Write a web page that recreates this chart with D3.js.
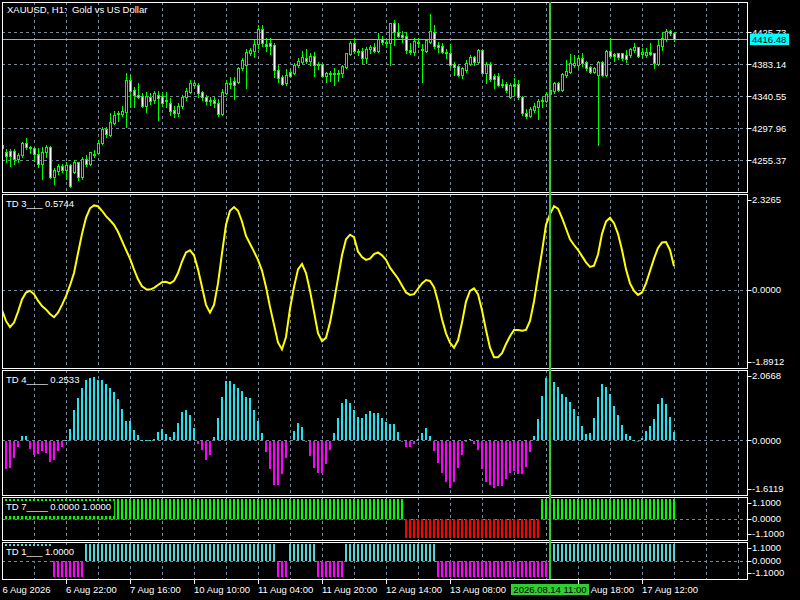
<!DOCTYPE html>
<html>
<head>
<meta charset="utf-8">
<style>
  body { margin: 0; background: #000; }
  svg { display: block; }
  svg text { font: 9.5px "Liberation Sans", Arial, sans-serif; fill: #fff; white-space: pre; }
  .grid { stroke: #778899; stroke-width: 1px; stroke-dasharray: 3,3; fill: none; }
  .frame { stroke: #fff; stroke-width: 1px; fill: none; }
</style>
</head>
<body>
<script src="https://d3js.org/d3.v7.min.js"></script>
<script>
// ---- data (H1 bars, index 0 .. 168) ----
// candles: [open, high, low, close]
var candles = [
  [4271.3,4278.9,4265.6,4275.8],[4266.9,4270.0,4253.6,4261.6],[4268.2,4270.0,4247.8,4261.1],[4268.2,4270.0,4250.5,4256.7],
  [4256.7,4264.7,4253.6,4262.5],[4262.5,4280.2,4260.2,4278.0],[4278.0,4284.6,4270.0,4272.7],[4272.7,4274.4,4265.6,4271.3],
  [4271.3,4272.7,4254.9,4263.3],[4263.3,4271.3,4246.0,4250.0],[4250.0,4272.7,4230.1,4266.9],[4266.9,4275.8,4260.2,4272.7],
  [4272.7,4274.4,4231.4,4233.6],[4233.6,4244.7,4223.9,4242.5],[4241.6,4250.5,4237.2,4247.8],[4247.8,4250.5,4239.8,4242.5],
  [4242.5,4253.6,4230.1,4249.1],[4249.1,4250.5,4220.3,4221.2],[4240.3,4255.8,4238.1,4253.6],[4252.7,4253.6,4229.2,4232.7],
  [4232.7,4260.2,4230.5,4256.7],[4256.7,4262.5,4247.8,4250.0],[4250.0,4266.9,4249.1,4266.0],[4262.5,4269.1,4260.2,4263.8],
  [4264.7,4282.4,4263.8,4278.0],[4278.0,4300.2,4277.1,4297.1],[4297.1,4300.2,4286.9,4290.4],[4289.1,4317.9,4287.8,4305.9],
  [4305.5,4321.5,4303.7,4315.7],[4316.6,4321.5,4308.2,4317.9],[4316.6,4327.7,4314.4,4321.0],[4320.1,4371.2,4300.2,4362.3],
  [4362.3,4368.9,4326.8,4348.1],[4349.0,4353.4,4326.8,4342.3],[4342.3,4357.9,4337.9,4340.1],[4341.0,4344.5,4326.8,4327.7],
  [4327.7,4346.8,4320.0,4341.0],[4340.1,4344.5,4330.0,4334.8],[4335.7,4348.1,4332.1,4344.5],[4342.3,4348.1,4309.0,4338.0],
  [4341.0,4346.8,4327.7,4332.1],[4336.0,4346.8,4326.8,4335.0],[4332.1,4338.0,4316.0,4321.5],[4322.4,4327.7,4313.0,4318.8],
  [4318.8,4332.1,4315.0,4327.7],[4327.7,4342.3,4325.0,4339.2],[4339.2,4352.0,4336.0,4348.1],[4346.8,4362.0,4344.5,4357.9],
  [4356.0,4361.0,4353.0,4357.9],[4356.0,4358.7,4340.1,4345.4],[4346.8,4348.1,4335.7,4340.1],[4340.1,4342.3,4330.0,4334.8],
  [4335.7,4339.2,4328.5,4334.8],[4335.7,4339.2,4326.8,4332.1],[4332.1,4337.0,4315.0,4317.0],[4317.0,4350.0,4316.0,4346.8],
  [4345.4,4362.0,4343.0,4357.9],[4357.9,4366.0,4352.0,4358.7],[4361.0,4366.0,4337.0,4355.6],[4360.1,4380.0,4358.0,4377.8],
  [4377.8,4392.0,4375.0,4388.9],[4382.3,4403.0,4351.0,4400.0],[4397.8,4405.0,4395.0,4402.2],[4401.3,4415.0,4393.0,4410.2],
  [4410.2,4435.0,4405.0,4430.2],[4430.2,4435.5,4407.0,4411.1],[4410.2,4418.0,4401.0,4407.5],[4412.0,4418.0,4397.0,4407.5],
  [4408.9,4412.0,4366.7,4375.6],[4375.6,4382.3,4360.1,4365.4],[4366.7,4369.0,4355.6,4357.0],[4357.9,4376.5,4355.6,4369.0],
  [4373.4,4376.5,4366.7,4368.1],[4371.6,4384.5,4370.7,4382.3],[4382.3,4392.0,4380.0,4388.0],[4386.7,4400.9,4385.4,4393.3],
  [4392.0,4403.1,4384.5,4388.0],[4387.6,4397.8,4382.3,4394.2],[4394.2,4400.0,4367.6,4382.3],[4383.1,4386.7,4376.5,4384.0],
  [4383.1,4384.5,4366.7,4367.6],[4367.6,4373.4,4360.1,4372.0],[4371.2,4374.7,4361.4,4372.0],[4371.2,4377.8,4355.6,4369.8],
  [4372.0,4375.6,4361.4,4369.8],[4371.2,4382.3,4365.8,4380.9],[4380.0,4398.7,4377.8,4397.8],[4396.9,4414.6,4395.6,4412.0],
  [4411.1,4417.8,4398.7,4401.3],[4401.3,4403.5,4395.6,4400.9],[4401.3,4404.4,4384.5,4391.1],[4391.1,4406.7,4384.5,4403.1],
  [4403.1,4408.9,4397.8,4405.8],[4405.8,4412.0,4400.0,4401.3],[4401.3,4425.3,4400.0,4416.4],[4416.4,4420.9,4410.2,4412.4],
  [4412.4,4416.4,4406.7,4413.3],[4412.0,4438.6,4382.3,4437.7],[4437.7,4442.2,4408.9,4426.6],[4426.6,4438.6,4420.0,4421.3],
  [4422.2,4428.0,4413.3,4420.0],[4420.9,4426.6,4397.8,4402.2],[4402.2,4411.1,4396.4,4399.1],[4400.0,4417.8,4395.6,4414.6],
  [4413.3,4417.8,4406.7,4412.4],[4403.1,4410.2,4360.1,4402.2],[4401.3,4416.4,4400.0,4415.5],[4413.3,4450.0,4412.0,4428.0],
  [4426.6,4435.5,4404.4,4408.0],[4408.9,4413.3,4400.0,4406.7],[4407.5,4411.1,4397.8,4400.0],[4400.0,4403.1,4391.1,4397.8],
  [4398.7,4410.2,4380.0,4382.3],[4383.6,4386.7,4368.9,4380.0],[4380.9,4382.3,4367.6,4368.9],[4368.9,4380.0,4364.5,4377.8],
  [4375.6,4388.9,4373.4,4384.5],[4383.6,4395.6,4382.3,4393.3],[4392.5,4394.2,4382.3,4386.7],[4386.7,4403.1,4384.5,4402.2],
  [4402.2,4403.1,4371.2,4372.0],[4372.0,4386.7,4357.9,4383.6],[4383.6,4386.7,4361.4,4363.2],[4367.6,4370.3,4351.2,4364.1],
  [4367.6,4371.2,4354.3,4355.6],[4357.0,4363.2,4353.4,4355.6],[4357.0,4360.1,4346.8,4349.0],[4340.1,4357.9,4337.9,4355.6],
  [4357.0,4364.5,4342.3,4354.7],[4357.0,4362.3,4336.5,4340.1],[4340.1,4341.0,4315.7,4317.9],[4317.9,4323.2,4311.3,4314.4],
  [4314.4,4325.9,4312.6,4323.2],[4322.3,4331.2,4320.1,4327.7],[4325.9,4336.5,4309.9,4334.8],[4334.8,4339.2,4325.9,4335.6],
  [4334.7,4346.7,4333.4,4343.6],[4343.6,4350.0,4340.0,4348.5],[4348.0,4360.0,4345.4,4357.8],[4358.7,4360.0,4348.0,4348.9],
  [4348.9,4372.0,4348.0,4370.2],[4368.9,4388.8,4365.8,4374.7],[4373.3,4396.8,4371.1,4385.3],[4382.2,4395.5,4380.0,4385.3],
  [4382.2,4395.5,4380.0,4391.1],[4391.1,4397.7,4380.9,4385.3],[4386.6,4388.0,4375.5,4377.8],[4379.1,4380.9,4371.1,4373.3],
  [4373.3,4380.0,4372.0,4377.8],[4368.9,4387.5,4275.7,4386.6],[4386.6,4388.0,4367.6,4368.9],[4368.9,4402.2,4367.6,4401.3],
  [4400.8,4417.7,4393.3,4394.6],[4396.8,4398.6,4388.0,4394.2],[4397.7,4398.6,4389.7,4393.3],[4397.7,4398.6,4388.8,4391.1],
  [4395.5,4402.2,4386.6,4390.2],[4395.5,4404.4,4393.3,4403.1],[4402.2,4411.9,4400.0,4405.7],[4405.7,4406.6,4392.4,4394.2],
  [4396.8,4404.4,4393.3,4399.9],[4395.5,4404.4,4393.3,4399.9],[4399.9,4411.0,4395.5,4396.8],[4397.7,4398.6,4377.8,4384.4],
  [4383.5,4416.4,4382.2,4408.8],[4407.5,4426.6,4402.2,4417.7],[4416.4,4429.7,4414.6,4427.5],[4427.5,4428.8,4422.1,4424.3],
  [4425.2,4426.6,4414.6,4416.48]
];

var td3Values = [
  -0.49,-0.75,-0.90,-0.79,-0.53,-0.23,-0.06,-0.02,-0.10,-0.26,-0.39,-0.47,-0.58,-0.66,-0.55,-0.36,-0.15,0.11,0.41,0.89,
  1.36,1.75,1.98,2.05,2.03,1.92,1.79,1.69,1.58,1.41,1.19,0.97,0.76,0.50,0.26,0.09,0.02,0.01,0.05,0.12,
  0.19,0.20,0.16,0.22,0.41,0.69,0.91,0.96,0.84,0.50,0.07,-0.36,-0.55,-0.36,0.16,0.89,1.58,1.92,2.01,1.92,
  1.66,1.31,1.12,0.93,0.73,0.47,0.07,-0.41,-0.84,-1.27,-1.44,-1.14,-0.45,0.07,0.50,0.63,0.41,-0.02,-0.53,-1.05,
  -1.24,-1.16,-0.79,-0.28,0.28,0.84,1.23,1.34,1.28,0.93,0.80,0.73,0.76,0.87,0.91,0.84,0.73,0.54,0.41,0.28,
  0.11,-0.06,-0.12,-0.10,0.03,0.16,0.24,0.22,0.07,-0.28,-0.71,-1.05,-1.28,-1.40,-1.22,-0.79,-0.28,-0.02,0.04,-0.10,
  -0.49,-0.97,-1.40,-1.63,-1.63,-1.53,-1.31,-1.12,-0.97,-0.97,-0.99,-0.97,-0.75,-0.28,0.33,0.93,1.58,1.84,2.03,1.97,
  1.75,1.49,1.23,1.09,0.97,0.82,0.67,0.56,0.59,0.86,1.36,1.66,1.75,1.62,1.36,0.97,0.50,0.16,-0.02,-0.12,
  -0.06,0.16,0.46,0.76,1.02,1.15,1.16,0.97,0.5744
];

var td4Values = [
  -0.60,-0.83,-0.78,-0.48,-0.16,0.12,0.12,-0.23,-0.40,-0.37,-0.29,-0.35,-0.61,-0.56,-0.29,-0.16,0.00,0.34,0.90,1.24,
  1.53,1.78,1.84,1.87,1.76,1.76,1.66,1.53,1.42,1.21,0.91,0.57,0.57,0.29,0.14,0.00,0.00,0.01,0.05,0.24,
  0.32,0.19,0.10,0.25,0.50,0.83,0.90,0.73,0.36,-0.07,-0.27,-0.54,-0.42,0.09,0.66,1.27,1.73,1.73,1.65,1.55,
  1.44,1.27,1.25,0.89,0.56,0.20,-0.32,-0.83,-1.28,-1.28,-0.96,-0.50,-0.02,0.28,0.50,0.40,-0.02,-0.43,-0.80,-0.93,
  -0.93,-0.67,-0.27,0.21,0.66,1.11,1.21,1.11,0.90,0.69,0.66,0.76,0.85,0.80,0.79,0.66,0.54,0.47,0.48,0.25,
  -0.02,-0.18,-0.18,-0.07,0.03,0.21,0.37,0.13,-0.29,-0.64,-0.93,-1.21,-1.39,-1.19,-0.80,-0.42,-0.02,0.05,-0.09,-0.27,
  -0.83,-1.19,-1.30,-1.39,-1.31,-1.31,-1.12,-0.93,-0.89,-0.97,-0.97,-0.76,-0.31,0.12,0.63,1.30,1.83,1.89,1.71,1.56,
  1.37,1.26,1.12,0.91,0.71,0.41,0.19,0.21,0.66,1.27,1.66,1.57,1.35,1.01,0.75,0.44,0.19,0.12,0.02,-0.01,
  0.06,0.26,0.41,0.63,1.07,1.24,1.07,0.69,0.2533
];

// sign histograms as runs of [bar count, value]
var td7Runs = [[101, 1], [34, -1], [34, 1]];
var td1Runs = [[13, 1], [8, -1], [48, 1], [3, -1], [7, 1], [7, -1], [23, 1], [28, -1], [32, 1]];

var timeTickBars = [0, 16, 32, 48, 64, 80, 96, 112, 144, 160];
var timeTickLabels = ["6 Aug 2026", "6 Aug 22:00", "7 Aug 16:00", "10 Aug 10:00", "11 Aug 04:00",
                      "11 Aug 20:00", "12 Aug 14:00", "13 Aug 08:00", "14 Aug 18:00", "17 Aug 12:00"];

var priceTicks = [4425.73, 4383.14, 4340.55, 4297.96, 4255.37];
var td3Ticks = [2.3265, 0, -1.8912];
var td4Ticks = [2.0668, 0, -1.6119];
var td7Ticks = [1.1, 0, -1.1];
var td1Ticks = [1.1, 0, -1.1];

var bidPrice = 4416.48;
var markerBar = 137;
var markerLabel = "2026.08.14 11:00";

// ---- layout ----
var left = 2, right = 747.5;
var panes = {
  main: { y0: 2,   y1: 192 },
  td3:  { y0: 194, y1: 368 },
  td4:  { y0: 370, y1: 495 },
  td7:  { y0: 497, y1: 540 },
  td1:  { y0: 542, y1: 579 }
};

function expand(runs) {
  var out = [];
  runs.forEach(function (r) { for (var k = 0; k < r[0]; k++) out.push(r[1]); });
  return out;
}
var td7Values = expand(td7Runs);
var td1Values = expand(td1Runs);

var svg = d3.select("body").append("svg")
    .attr("width", 800)
    .attr("height", 600)
    .style("background", "#000");

var x = d3.scaleLinear().domain([0, 168]).range([2, 674]);
function px(i) { return Math.round(x(i)); }

var yMain = d3.scaleLinear().domain([4213.2, 4466.1]).range([panes.main.y1, panes.main.y0]);
var y3 = d3.scaleLinear().domain([-1.8912, 2.3265]).range([panes.td3.y1, panes.td3.y0]);
var y4 = d3.scaleLinear().domain([-1.6119, 2.0668]).range([panes.td4.y1, panes.td4.y0]);
var y7 = d3.scaleLinear().domain([-1.1, 1.1]).range([panes.td7.y1, panes.td7.y0]);
var y1 = d3.scaleLinear().domain([-1.1, 1.1]).range([panes.td1.y1, panes.td1.y0]);

// pane group with clip, vertical grid and optional horizontal grid
function makePane(name, p, hLines, yScale) {
  svg.append("clipPath").attr("id", "clip-" + name)
    .append("rect").attr("x", left).attr("y", p.y0).attr("width", right - left).attr("height", p.y1 - p.y0);
  var g = svg.append("g").attr("clip-path", "url(#clip-" + name + ")");

  var gx = d3.range(8, 186, 8).filter(function (i) { return x(i) < right - 2; });
  g.selectAll("line.vg").data(gx).join("line")
      .attr("class", "grid")
      .attr("x1", function (i) { return px(i) + 0.5; })
      .attr("x2", function (i) { return px(i) + 0.5; })
      .attr("y1", p.y0)
      .attr("y2", p.y1);

  g.selectAll("line.hg").data(hLines).join("line")
      .attr("class", "grid")
      .attr("x1", left)
      .attr("x2", right)
      .attr("y1", function (v) { return Math.round(yScale(v)) + 0.5; })
      .attr("y2", function (v) { return Math.round(yScale(v)) + 0.5; });
  return g;
}

function frame(p) {
  svg.append("rect").attr("class", "frame")
    .attr("x", left + 0.5).attr("y", p.y0 + 0.5)
    .attr("width", right - left - 0.5).attr("height", p.y1 - p.y0);
}

function legend(txt, baseline, withBox) {
  var lg = svg.append("g");
  var t = lg.append("text").attr("x", 6).attr("y", baseline).text(txt);
  if (withBox) {
    var bb = t.node().getBBox();
    lg.insert("rect", "text")
      .attr("x", 4).attr("y", baseline - 9)
      .attr("width", bb.width + 5).attr("height", 15)
      .attr("fill", "#000");
  }
}

function rightLabels(values, yScale, p, digits) {
  var g = svg.append("g");
  values.forEach(function (v) {
    var yy = Math.max(p.y0 + 5.5, Math.min(p.y1 - 6, yScale(v)));
    g.append("line")
      .attr("x1", right).attr("x2", right + 4)
      .attr("y1", Math.round(yy) + 0.5).attr("y2", Math.round(yy) + 0.5)
      .attr("stroke", "#fff");
    g.append("text")
      .attr("x", 752).attr("y", yy).attr("dy", "0.35em")
      .text(v.toFixed(digits));
  });
}

// ---- main pane: candles ----
var gMain = makePane("main", panes.main, priceTicks, yMain);

gMain.selectAll("line.wick").data(candles).join("line")
    .attr("x1", function (d, i) { return px(i) + 0.5; })
    .attr("x2", function (d, i) { return px(i) + 0.5; })
    .attr("y1", function (d) { return Math.round(yMain(d[1])); })
    .attr("y2", function (d) { return Math.round(yMain(d[2])) + 1; })
    .attr("stroke", "#00ff00");

gMain.selectAll("rect.body").data(candles).join("rect")
    .attr("x", function (d, i) { return px(i) - 0.5; })
    .attr("y", function (d) { return Math.round(yMain(Math.max(d[0], d[3]))) + 0.5; })
    .attr("width", 2)
    .attr("height", function (d) {
      var h = Math.round(yMain(Math.min(d[0], d[3]))) - Math.round(yMain(Math.max(d[0], d[3])));
      return Math.max(1, h);
    })
    .attr("fill", function (d) { return d[3] >= d[0] ? "#000" : "#fff"; })
    .attr("stroke", "#00ff00");

// bid line
gMain.append("line")
    .attr("x1", left).attr("x2", right)
    .attr("y1", Math.round(yMain(bidPrice)) + 0.5).attr("y2", Math.round(yMain(bidPrice)) + 0.5)
    .attr("stroke", "#2fe0e8");

svg.append("text").attr("x", 7).attr("y", 13).text("XAUUSD, H1:  Gold vs US Dollar");
frame(panes.main);
rightLabels(priceTicks, yMain, panes.main, 2);

// bid price box
var bidY = yMain(bidPrice);
svg.append("rect").attr("x", 750).attr("y", bidY - 5.7).attr("width", 39).attr("height", 11.5).attr("fill", "#00ffff");
svg.append("text").attr("x", 752).attr("y", bidY).attr("dy", "0.35em").style("fill", "#000")
    .text(bidPrice.toFixed(2));

// ---- TD 3 line ----
var g3 = makePane("td3", panes.td3, [0], y3);
g3.append("path")
    .datum(td3Values)
    .attr("d", d3.line().x(function (d, i) { return x(i); }).y(function (d) { return y3(d); }))
    .attr("fill", "none")
    .attr("stroke", "#ffff00")
    .attr("stroke-width", 2);
legend("TD 3___ " + td3Values[td3Values.length - 1].toFixed(4), 207, false);
frame(panes.td3);
rightLabels(td3Ticks, y3, panes.td3, 4);

// ---- TD 4 histogram ----
var g4 = makePane("td4", panes.td4, [0], y4);
var zero4 = Math.round(y4(0));
g4.selectAll("rect.h").data(td4Values).join("rect")
    .attr("x", function (d, i) { return px(i) - 1; })
    .attr("width", 2)
    .attr("y", function (d) { return d >= 0 ? Math.round(y4(d)) : zero4 + 1; })
    .attr("height", function (d) { return Math.max(1, Math.abs(Math.round(y4(d)) - zero4)); })
    .attr("fill", function (d) { return d >= 0 ? "#1ee6f0" : "#ff00ff"; });
legend("TD 4____ " + td4Values[td4Values.length - 1].toFixed(4), 383, false);
frame(panes.td4);
rightLabels(td4Ticks, y4, panes.td4, 4);

// ---- TD 7 up/down blocks ----
var g7 = makePane("td7", panes.td7, [0], y7);
var zero7 = Math.round(y7(0));
g7.selectAll("rect.up").data(td7Values).join("rect")
    .attr("x", function (d, i) { return px(i) - 1; })
    .attr("width", 2)
    .attr("y", function (d) { return d > 0 ? Math.round(y7(d)) : zero7; })
    .attr("height", function (d) { return d > 0 ? zero7 - Math.round(y7(d)) : 1; })
    .attr("fill", "#00ff00");
g7.selectAll("rect.dn").data(td7Values).join("rect")
    .attr("x", function (d, i) { return px(i) - 1; })
    .attr("width", 2)
    .attr("y", zero7)
    .attr("height", function (d) { return d < 0 ? Math.round(y7(d)) - zero7 : 1; })
    .attr("fill", "#ff0000");
legend("TD 7____ 0.0000 1.0000", 510, true);
frame(panes.td7);
rightLabels(td7Ticks, y7, panes.td7, 4);

// ---- TD 1 up/down blocks ----
var g1 = makePane("td1", panes.td1, [0], y1);
var zero1 = Math.round(y1(0));
g1.selectAll("rect.s").data(td1Values).join("rect")
    .attr("x", function (d, i) { return px(i) - 1; })
    .attr("width", 2)
    .attr("y", function (d) { return d > 0 ? Math.round(y1(d)) : zero1; })
    .attr("height", function (d) { return Math.abs(Math.round(y1(d)) - zero1); })
    .attr("fill", function (d) { return d > 0 ? "#4fd6d6" : "#ff00ff"; });
legend("TD 1___ 1.0000", 555, true);
frame(panes.td1);
rightLabels(td1Ticks, y1, panes.td1, 4);

// ---- time axis ----
var gt = svg.append("g");
timeTickBars.forEach(function (b, k) {
  var xx = px(b);
  if (b > 0) {
    gt.append("line")
      .attr("x1", xx + 0.5).attr("x2", xx + 0.5)
      .attr("y1", panes.td1.y1).attr("y2", panes.td1.y1 + 5)
      .attr("stroke", "#fff");
  }
  gt.append("text").attr("x", b > 0 ? xx : 2.5).attr("y", 592.5).text(timeTickLabels[k]);
});

// ---- vertical marker line + its time box ----
var mx = px(markerBar);
svg.append("rect")
    .attr("x", mx - 1).attr("y", panes.main.y0)
    .attr("width", 2).attr("height", panes.td1.y1 - panes.main.y0)
    .attr("fill", "#32cd32");
svg.append("rect")
    .attr("x", mx - 39).attr("y", 584).attr("width", 78).attr("height", 11)
    .attr("fill", "#32cd32");
svg.append("text")
    .attr("x", mx).attr("y", 592.5).attr("text-anchor", "middle").style("fill", "#000")
    .text(markerLabel);
</script>
</body>
</html>
